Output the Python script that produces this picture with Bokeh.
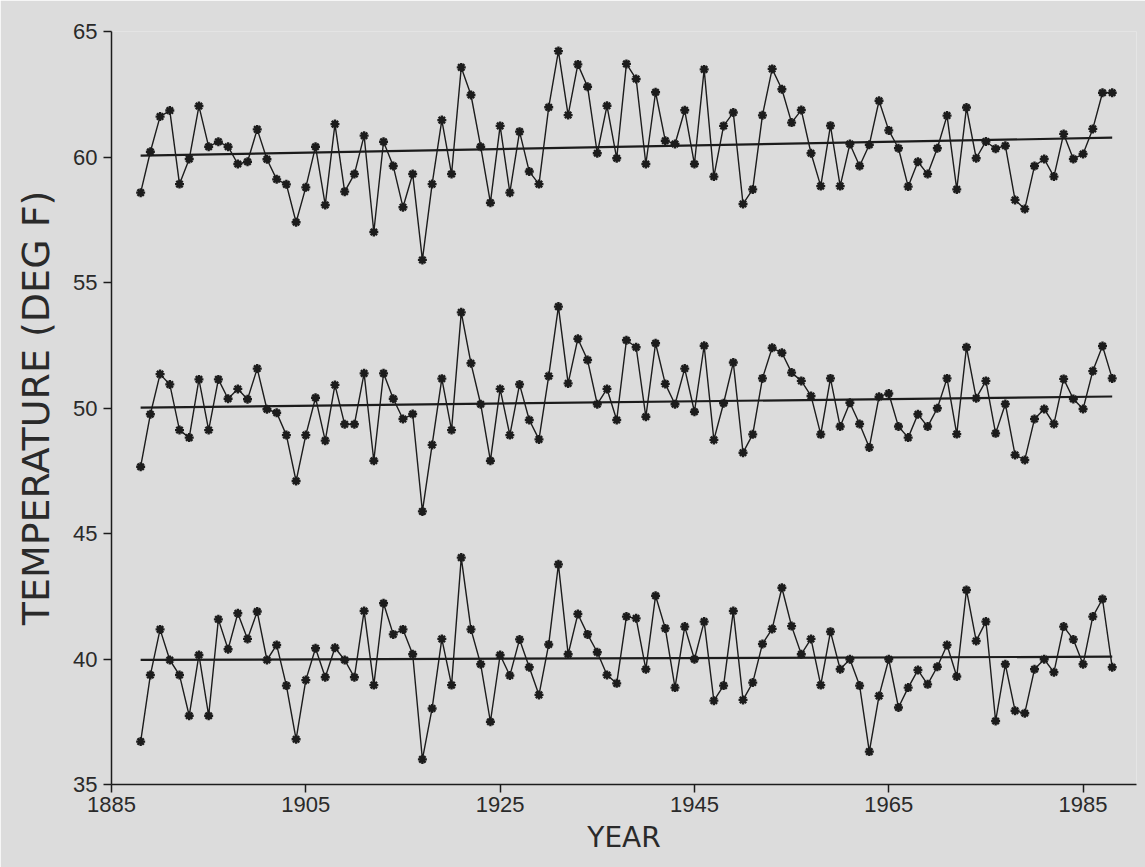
import numpy as np
from bokeh.plotting import figure
from bokeh.models import Range1d, FixedTicker
from bokeh.embed import file_html
from bokeh.resources import INLINE

years = list(range(1888, 1989))

top = [58.58, 60.21, 61.61, 61.85, 58.92, 59.92, 62.03, 60.41, 60.61, 60.41,
       59.72, 59.81, 61.10, 59.91, 59.11, 58.91, 57.40, 58.79, 60.41, 58.09,
       61.31, 58.62, 59.32, 60.85, 57.01, 60.61, 59.64, 58.00, 59.32, 55.90,
       58.92, 61.47, 59.32, 63.57, 62.47, 60.41, 58.18, 61.24, 58.58, 61.01,
       59.42, 58.92, 61.98, 64.22, 61.67, 63.69, 62.80, 60.15, 62.04, 59.95,
       63.71, 63.11, 59.72, 62.58, 60.65, 60.52, 61.86, 59.72, 63.49, 59.22,
       61.24, 61.77, 58.13, 58.71, 61.66, 63.51, 62.70, 61.37, 61.87, 60.15,
       58.84, 61.25, 58.84, 60.52, 59.64, 60.49, 62.24, 61.06, 60.35, 58.82,
       59.81, 59.32, 60.35, 61.65, 58.71, 61.97, 59.95, 60.62, 60.33, 60.45,
       58.29, 57.93, 59.64, 59.92, 59.22, 60.92, 59.92, 60.12, 61.12, 62.56, 62.56]

mid = [47.66, 49.75, 51.35, 50.94, 49.12, 48.82, 51.14, 49.12, 51.14, 50.37,
       50.76, 50.35, 51.57, 49.95, 49.81, 48.92, 47.09, 48.92, 50.41, 48.70,
       50.92, 49.35, 49.35, 51.38, 47.90, 51.38, 50.37, 49.56, 49.76, 45.88,
       48.53, 51.17, 49.12, 53.81, 51.78, 50.15, 47.90, 50.76, 48.92, 50.94,
       49.52, 48.75, 51.27, 54.04, 50.98, 52.76, 51.91, 50.15, 50.76, 49.52,
       52.70, 52.42, 49.65, 52.58, 50.96, 50.15, 51.57, 49.85, 52.48, 48.73,
       50.19, 51.81, 48.22, 48.95, 51.18, 52.40, 52.20, 51.41, 51.08, 50.48,
       48.95, 51.18, 49.26, 50.21, 49.36, 48.43, 50.45, 50.58, 49.26, 48.82,
       49.75, 49.26, 49.99, 51.18, 48.96, 52.42, 50.39, 51.08, 48.99, 50.16,
       48.13, 47.93, 49.56, 49.96, 49.36, 51.16, 50.36, 49.96, 51.47, 52.47, 51.18]

bot = [36.71, 39.36, 41.18, 39.96, 39.36, 37.74, 40.16, 37.74, 41.58, 40.39,
       41.82, 40.80, 41.89, 39.96, 40.56, 38.94, 36.80, 39.16, 40.43, 39.27,
       40.45, 39.96, 39.27, 41.91, 38.96, 42.22, 40.98, 41.18, 40.19, 36.00,
       38.03, 40.80, 38.96, 44.04, 41.18, 39.79, 37.50, 40.16, 39.34, 40.78,
       39.67, 38.57, 40.58, 43.77, 40.19, 41.79, 40.98, 40.27, 39.36, 39.03,
       41.69, 41.62, 39.59, 42.52, 41.22, 38.86, 41.29, 39.99, 41.49, 38.34,
       38.94, 41.91, 38.37, 39.06, 40.60, 41.20, 42.84, 41.31, 40.19, 40.80,
       38.96, 41.09, 39.59, 39.99, 38.94, 36.31, 38.53, 39.99, 38.07, 38.86,
       39.56, 38.99, 39.69, 40.56, 39.30, 42.75, 40.72, 41.49, 37.53, 39.79,
       37.94, 37.84, 39.59, 39.99, 39.47, 41.29, 40.78, 39.79, 41.69, 42.39, 39.67]

x_ticks = [1885, 1905, 1925, 1945, 1965, 1985]
y_ticks = [35, 40, 45, 50, 55, 60, 65]

BG = "#dcdcdc"
INK = "#1c1c1c"
TXT = "#2a2a2a"
FONT = "DejaVu Sans"

p = figure(width=1145, height=867, output_backend="svg", toolbar_location=None,
           x_range=Range1d(1885, 1990.5), y_range=Range1d(35, 65),
           min_border_left=111, min_border_right=9, min_border_top=31,
           min_border_bottom=83)
p.background_fill_color = BG
p.border_fill_color = BG
p.outline_line_color = None
p.grid.visible = False

xs = np.array(years, dtype=float)
for series in (top, mid, bot):
    ys = np.array(series)
    slope, icpt = np.polyfit(xs, ys, 1)
    fx = [xs[0], xs[-1]]
    p.line(fx, [icpt + slope * v for v in fx], line_color=INK, line_width=2.2)
    p.line(years, series, line_color=INK, line_width=1.4)
    p.scatter(years, series, marker="asterisk", size=9, line_color=INK,
              line_width=2.4)

p.xaxis.ticker = FixedTicker(ticks=x_ticks)
p.yaxis.ticker = FixedTicker(ticks=y_ticks)
for ax in (p.xaxis[0], p.yaxis[0]):
    ax.axis_line_color = INK
    ax.axis_line_width = 1.5
    ax.major_tick_line_color = INK
    ax.major_tick_line_width = 1.5
    ax.major_tick_in = 0
    ax.major_tick_out = 8
    ax.minor_tick_line_color = None
    ax.major_label_text_font = "Liberation Sans"
    ax.major_label_text_font_size = "22px"
    ax.major_label_text_color = TXT
    ax.axis_label_text_font = FONT
    ax.axis_label_text_font_style = "normal"
    ax.axis_label_text_color = TXT

p.xaxis.axis_label = "YEAR"
p.yaxis.axis_label = "TEMPERATURE (DEG F)"
p.xaxis.axis_label_text_font_size = "28px"
p.yaxis.axis_label_text_font_size = "38px"
p.xaxis.major_label_standoff = 4
p.xaxis.axis_label_standoff = 6
p.yaxis.major_label_standoff = 6
p.yaxis.axis_label_standoff = 12

open("out.html", "w").write(file_html(p, INLINE))
